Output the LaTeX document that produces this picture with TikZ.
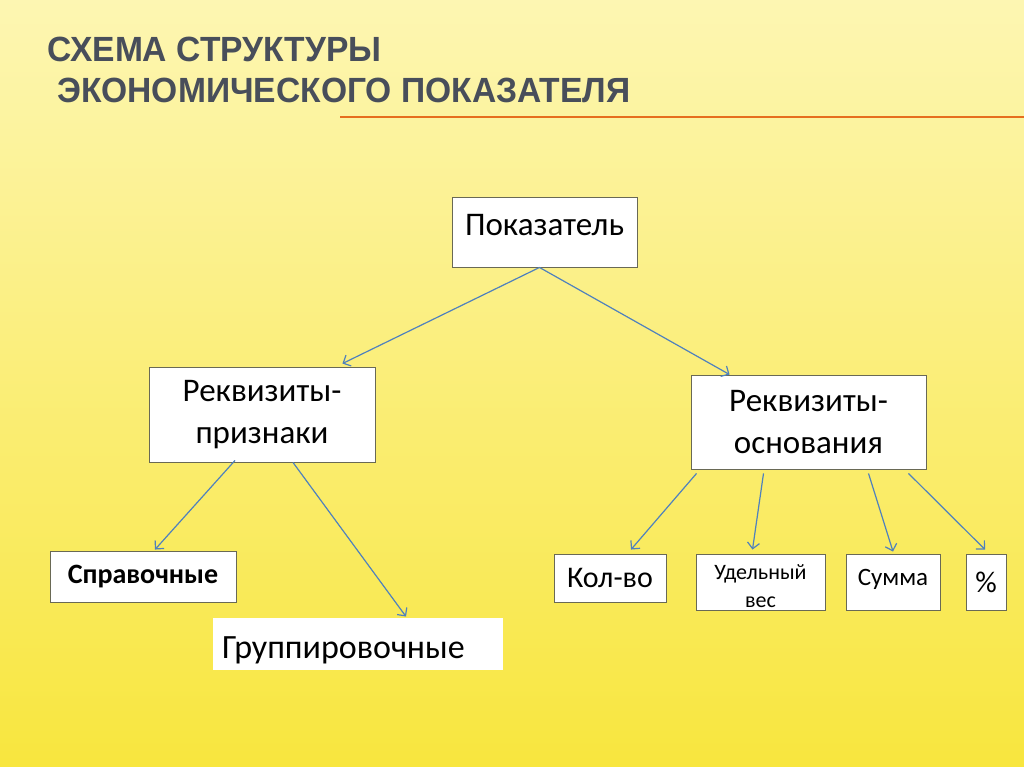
\documentclass[tikz,border=0pt]{standalone}
\usepackage{fontspec}
\setmainfont{Carlito}
\newfontfamily\titlefont[FakeStretch=0.96]{Liberation Sans}
\usetikzlibrary{arrows.meta}

\definecolor{bgtop}{RGB}{253,246,178}
\definecolor{bgmid}{RGB}{251,238,118}
\definecolor{bgbot}{RGB}{248,230,62}
\definecolor{boxline}{RGB}{105,105,85}
\definecolor{linkblue}{RGB}{79,129,189}
\definecolor{titlegray}{RGB}{72,78,90}
\definecolor{ruleorange}{RGB}{230,110,30}

\tikzset{
	box/.style={draw=boxline, fill=white, line width=0.9pt, inner sep=0pt, align=center, font=\fontsize{33}{42}\selectfont},
	leaf/.style={box, minimum height=56pt},
	link/.style={draw=linkblue, line width=1.2pt, -{Straight Barb[length=6pt,width=12pt]}}
}

\begin{document}
\begin{tikzpicture}[x=1pt,y=-1pt]
	\useasboundingbox (0,0) rectangle (1024,767);
	\shade[top color=bgtop, middle color=bgmid, bottom color=bgbot] (0,0) rectangle (1024,767);

	\node[anchor=north west, inner sep=0pt, align=left, text=titlegray, font=\titlefont\bfseries\fontsize{35}{41}\selectfont] (title) at (47,37) {СХЕМА СТРУКТУРЫ\\\hspace*{10pt}ЭКОНОМИЧЕСКОГО ПОКАЗАТЕЛЯ};
	\draw[ruleorange, line width=2pt] (340,117) -- (1024,117);

		\node[box, minimum width=185pt, minimum height=70pt, text depth=14pt] (pok) at (544.5,232) {Показатель};
		\node[box, minimum width=226pt, minimum height=95pt] (priz) at (262,414.5) {Реквизиты-\\признаки};
		\node[box, minimum width=235pt, minimum height=94pt] (osn) at (808.5,422) {Реквизиты-\\основания};
		\node[box, minimum width=186pt, minimum height=51pt, font=\bfseries\fontsize{28}{34}\selectfont] (sprav) at (143,576.5) {Справочные};
		\node[box, draw=none, text width=272pt, inner xsep=9pt, align=left, minimum height=52pt, text height=35pt, font=\fontsize{34}{40}\selectfont] (grup) at (358,644) {Группировочные};
		\node[leaf, minimum width=112pt, minimum height=48pt, font=\fontsize{30}{36}\selectfont] (kol) at (610,578) {Кол-во};
		\node[leaf, minimum width=129pt, text height=51pt, font=\fontsize{22}{28}\selectfont] (ud) at (760.5,582) {Удельный\\вес};
		\node[leaf, minimum width=94pt, text depth=10pt, font=\fontsize{25}{30}\selectfont] (sum) at (893,582) {Сумма};
		\node[leaf, minimum width=40pt, font=\fontsize{30}{36}\selectfont] (pct) at (986,582) {\%};

		\draw[link] ([xshift=-5pt]pok.south) -- ([xshift=-33pt,yshift=3pt]priz.north east);
		\draw[link] ([xshift=-5pt]pok.south) -- ([xshift=39pt]osn.north west);
		\draw[link] ([xshift=-27pt,yshift=2pt]priz.south) -- ([xshift=12pt,yshift=1pt]sprav.north);
		\draw[link] ([xshift=31pt]priz.south) -- ([xshift=48pt,yshift=1pt]grup.north);
		\draw[link] ([xshift=-112pt,yshift=-4pt]osn.south) -- ([xshift=21pt,yshift=4pt]kol.north);
		\draw[link] ([xshift=-45pt,yshift=-4pt]osn.south) -- ([xshift=-8pt,yshift=4pt]ud.north);
		\draw[link] ([xshift=60pt,yshift=-4pt]osn.south) -- ([yshift=2pt]sum.north);
		\draw[link] ([xshift=100pt,yshift=-4pt]osn.south) -- ([xshift=-1pt,yshift=4pt]pct.north);
\end{tikzpicture}
\end{document}
